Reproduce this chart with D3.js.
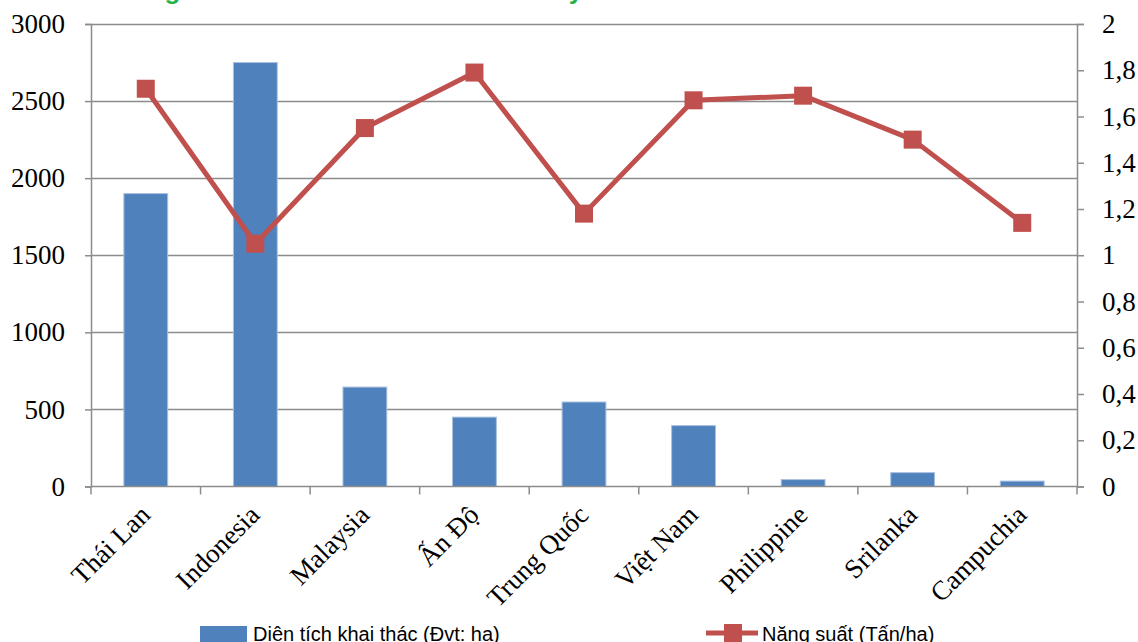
<!DOCTYPE html>
<html>
<head>
<meta charset="utf-8">
<script src="https://cdn.jsdelivr.net/npm/d3@7"></script>
<style>
  body { margin: 0; background: #fff; }
  svg { display: block; }
</style>
</head>
<body>
<svg id="chart" width="1138" height="642"></svg>
<script>
// data
const countries = ["Thái Lan", "Indonesia", "Malaysia", "Ấn Độ", "Trung Quốc", "Việt Nam", "Philippine", "Srilanka", "Campuchia"];
const areaValues = [1900, 2750, 645, 450, 548, 395, 45, 90, 35];
const yieldValues = [1.72, 1.05, 1.55, 1.79, 1.18, 1.67, 1.69, 1.5, 1.14];
const leftTicks = [0, 500, 1000, 1500, 2000, 2500, 3000];
const rightTicks = [0, 0.2, 0.4, 0.6, 0.8, 1, 1.2, 1.4, 1.6, 1.8, 2];
const seriesNames = ["Diện tích khai thác (Đvt: ha)", "Năng suất (Tấn/ha)"];

const svg = d3.select("#chart");
const plotLeft = 91, plotRight = 1077, plotTop = 24, plotBottom = 486.5;
const blue = "#4F81BD", red = "#C0504D", grid = "#8c8c8c";
const serif = "'Liberation Serif', 'Times New Roman', serif";

const x = d3.scaleBand().domain(countries).range([plotLeft, plotRight]).padding(0);
const y0 = d3.scaleLinear().domain([0, 3000]).range([plotBottom, plotTop]);
const y1 = d3.scaleLinear().domain([0, 2]).range([plotBottom, plotTop]);

// caption, mostly above the top edge (only descenders show)
svg.append("text")
  .attr("x", 20).attr("y", -1)
  .attr("font-family", "'Liberation Sans', Arial, sans-serif")
  .attr("font-size", 26).attr("font-weight", "bold")
  .attr("fill", "#1fb34a")
  .text("Hình 1: Năng suất cao su của các nước chủ yếu");

// gridlines
svg.append("g").selectAll("line")
  .data(leftTicks.filter(d => d > 0))
  .join("line")
  .attr("x1", plotLeft).attr("x2", plotRight)
  .attr("y1", d => Math.round(y0(d)) + 0.5).attr("y2", d => Math.round(y0(d)) + 0.5)
  .attr("stroke", grid).attr("stroke-width", 1.5);

// bars
svg.append("g").selectAll("rect")
  .data(countries)
  .join("rect")
  .attr("x", d => x(d) + x.bandwidth() * 0.3)
  .attr("width", x.bandwidth() * 0.4)
  .attr("y", (d, i) => y0(areaValues[i]))
  .attr("height", (d, i) => plotBottom - y0(areaValues[i]))
  .attr("fill", blue)
  .attr("stroke", "#a9c0de").attr("stroke-width", 1);

// left axis
const axL = svg.append("g")
  .attr("transform", `translate(${plotLeft},0)`)
  .call(d3.axisLeft(y0).tickValues(leftTicks).tickSize(6).tickPadding(20).tickFormat(d3.format("d")));
axL.select(".domain").attr("stroke", grid).attr("stroke-width", 1.5);
axL.selectAll(".tick line").attr("stroke", grid).attr("stroke-width", 1.5);
axL.selectAll("text").attr("font-family", serif).attr("font-size", 27).attr("fill", "#000");

// right axis
const axR = svg.append("g")
  .attr("transform", `translate(${plotRight},0)`)
  .call(d3.axisRight(y1).tickValues(rightTicks).tickSize(7).tickPadding(18)
    .tickFormat(d => String(+d.toFixed(1)).replace(".", ",")));
axR.select(".domain").attr("stroke", grid).attr("stroke-width", 1.5);
axR.selectAll(".tick line").attr("stroke", grid).attr("stroke-width", 1.5);
axR.selectAll("text").attr("font-family", serif).attr("font-size", 27).attr("fill", "#000");

// bottom axis with ticks at category boundaries
const axB = svg.append("g");
axB.append("line")
  .attr("x1", plotLeft).attr("x2", plotRight).attr("y1", plotBottom).attr("y2", plotBottom)
  .attr("stroke", grid).attr("stroke-width", 1.5);
axB.selectAll("line.tk")
  .data(countries.concat([null]))
  .join("line").attr("class", "tk")
  .attr("x1", (d, i) => plotLeft + i * x.bandwidth())
  .attr("x2", (d, i) => plotLeft + i * x.bandwidth())
  .attr("y1", plotBottom).attr("y2", plotBottom + 8)
  .attr("stroke", grid).attr("stroke-width", 1.5);
axB.selectAll("text")
  .data(countries)
  .join("text")
  .attr("transform", d => `translate(${x(d) + x.bandwidth() / 2 + 6},${plotBottom + 30}) rotate(-45)`)
  .attr("text-anchor", "end")
  .attr("font-family", serif).attr("font-size", 27)
  .attr("fill", "#000")
  .text(d => d);

// line series
const line = d3.line()
  .x(d => x(d) + x.bandwidth() / 2)
  .y((d, i) => y1(yieldValues[i]));
svg.append("path")
  .datum(countries)
  .attr("d", line)
  .attr("fill", "none")
  .attr("stroke", red).attr("stroke-width", 5)
  .attr("stroke-linejoin", "round");
svg.append("g").selectAll("rect")
  .data(countries)
  .join("rect")
  .attr("x", d => x(d) + x.bandwidth() / 2 - 9)
  .attr("y", (d, i) => y1(yieldValues[i]) - 9)
  .attr("width", 18).attr("height", 18)
  .attr("fill", red);

// legend
const lg = svg.append("g")
  .attr("font-family", "'Liberation Sans', Arial, sans-serif")
  .attr("font-size", 20).attr("fill", "#000");
lg.append("rect").attr("x", 200).attr("y", 626).attr("width", 47).attr("height", 16).attr("fill", blue);
lg.append("text").attr("x", 253).attr("y", 641).text(seriesNames[0]);
lg.append("line").attr("x1", 706).attr("x2", 758).attr("y1", 633).attr("y2", 633)
  .attr("stroke", red).attr("stroke-width", 5);
lg.append("rect").attr("x", 724).attr("y", 624).attr("width", 18).attr("height", 18).attr("fill", red);
lg.append("text").attr("x", 762).attr("y", 641).text(seriesNames[1]);
</script>
</body>
</html>
